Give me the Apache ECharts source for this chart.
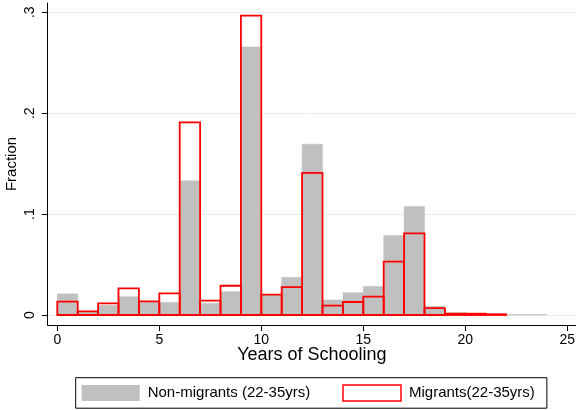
<!DOCTYPE html>
<html>
<head>
<meta charset="utf-8">
<script src="https://cdn.jsdelivr.net/npm/echarts@6/dist/echarts.min.js"></script>
<style>
  html, body { margin: 0; padding: 0; background: #fff; }
  #chart { width: 576px; height: 410px; }
</style>
</head>
<body>
<div id="chart"></div>
<script>
// Histogram of years of schooling, bins of width 1 starting at each value
const binStarts = [0, 1, 2, 3, 4, 5, 6, 7, 8, 9, 10, 11, 12, 13, 14, 15, 16, 17, 18, 19, 20, 21, 22, 23];
const nonMigrants = [0.021, 0.003, 0.0096, 0.0182, 0.0128, 0.0125, 0.133, 0.0116, 0.0231, 0.2657, 0.0198, 0.0373,
                     0.1693, 0.0149, 0.0221, 0.0284, 0.0789, 0.1076, 0.0087, 0.0023, 0.0010, 0.0006, 0.0005, 0.0005];
const migrants = [0.0132, 0.0035, 0.0116, 0.0264, 0.0135, 0.0215, 0.1908, 0.0142, 0.029, 0.2967, 0.0201, 0.0277,
                  0.1409, 0.0092, 0.0129, 0.0182, 0.0528, 0.0809, 0.0069, 0.0013, 0.0013, 0.0007, 0, 0];
const binWidth = 1;
const xTicks = [0, 5, 10, 15, 20, 25];
const yTicks = [0, 0.1, 0.2, 0.3];
const seriesNames = ['Non-migrants (22-35yrs)', 'Migrants(22-35yrs)'];

const FONT = '"Liberation Sans", Arial, sans-serif';

function toBins(values) {
  return binStarts.map((s, i) => [s, s + binWidth, values[i]]).filter(d => d[2] > 0);
}

function makeRender(style) {
  return function (params, api) {
    const p0 = api.coord([api.value(0), api.value(2)]);
    const p1 = api.coord([api.value(1), 0]);
    return {
      type: 'rect',
      shape: { x: p0[0], y: p0[1], width: p1[0] - p0[0], height: p1[1] - p0[1] },
      style: style
    };
  };
}

const chart = echarts.init(document.getElementById('chart'), null, { renderer: 'canvas' });
chart.setOption({
  animation: false,
  backgroundColor: '#fff',
  textStyle: { fontFamily: FONT, color: '#000' },
  grid: { left: 47.7, right: 0, top: 3, bottom: 85, containLabel: false, outerBoundsMode: 'none' },
  xAxis: {
    type: 'value',
    min: -0.4706,
    max: 25.426,
    name: 'Years of Schooling',
    nameLocation: 'middle',
    nameGap: 21,
    nameMoveOverlap: false,
    nameTextStyle: { fontSize: 18, color: '#000', fontFamily: FONT },
    axisLine: { onZero: false, lineStyle: { color: '#000', width: 1 } },
    axisTick: { length: 6, lineStyle: { color: '#000' }, customValues: xTicks },
    axisLabel: { customValues: xTicks, fontSize: 14, color: '#000', margin: 8, fontFamily: FONT },
    splitLine: { show: false }
  },
  yAxis: {
    type: 'value',
    min: -0.00991,
    max: 0.3092,
    name: 'Fraction',
    nameLocation: 'middle',
    nameGap: 28,
    nameMoveOverlap: false,
    nameTextStyle: { fontSize: 15, color: '#000', fontFamily: FONT },
    axisLine: { show: true, onZero: false, lineStyle: { color: '#000', width: 1 } },
    axisTick: { show: true, length: 6, lineStyle: { color: '#000' }, customValues: yTicks },
    axisLabel: {
      customValues: yTicks,
      rotate: 90,
      fontSize: 14,
      color: '#000',
      margin: 11,
      fontFamily: FONT,
      formatter: v => (v === 0 ? '0' : String(v).replace(/^0/, ''))
    },
    splitLine: { show: true, lineStyle: { color: '#e4edf0', width: 1 } }
  },
  legend: {
    left: 75.7,
    top: 377.7,
    orient: 'horizontal',
    borderColor: '#000',
    borderWidth: 1,
    padding: [6.5, 12, 6.5, 6],
    itemWidth: 58,
    itemHeight: 16,
    itemGap: 32,
    textStyle: { fontSize: 15, color: '#000', fontFamily: FONT, padding: [0, 0, 0, 3] },
    data: [
      { name: seriesNames[0], icon: 'rect', itemStyle: { color: '#c0c0c0', borderWidth: 0 } },
      { name: seriesNames[1], icon: 'rect', itemStyle: { color: '#ffffff', borderColor: '#ff0000', borderWidth: 1.5 } }
    ]
  },
  series: [
    {
      name: seriesNames[0],
      type: 'custom',
      renderItem: makeRender({ fill: '#c0c0c0', stroke: '#c0c0c0', lineWidth: 0.5 }),
      encode: { x: [0, 1], y: 2 },
      data: toBins(nonMigrants),
      z: 2
    },
    {
      name: seriesNames[1],
      type: 'custom',
      renderItem: makeRender({ fill: 'none', stroke: '#ff0000', lineWidth: 1.8 }),
      encode: { x: [0, 1], y: 2 },
      data: toBins(migrants),
      z: 3
    }
  ]
});
</script>
</body>
</html>
